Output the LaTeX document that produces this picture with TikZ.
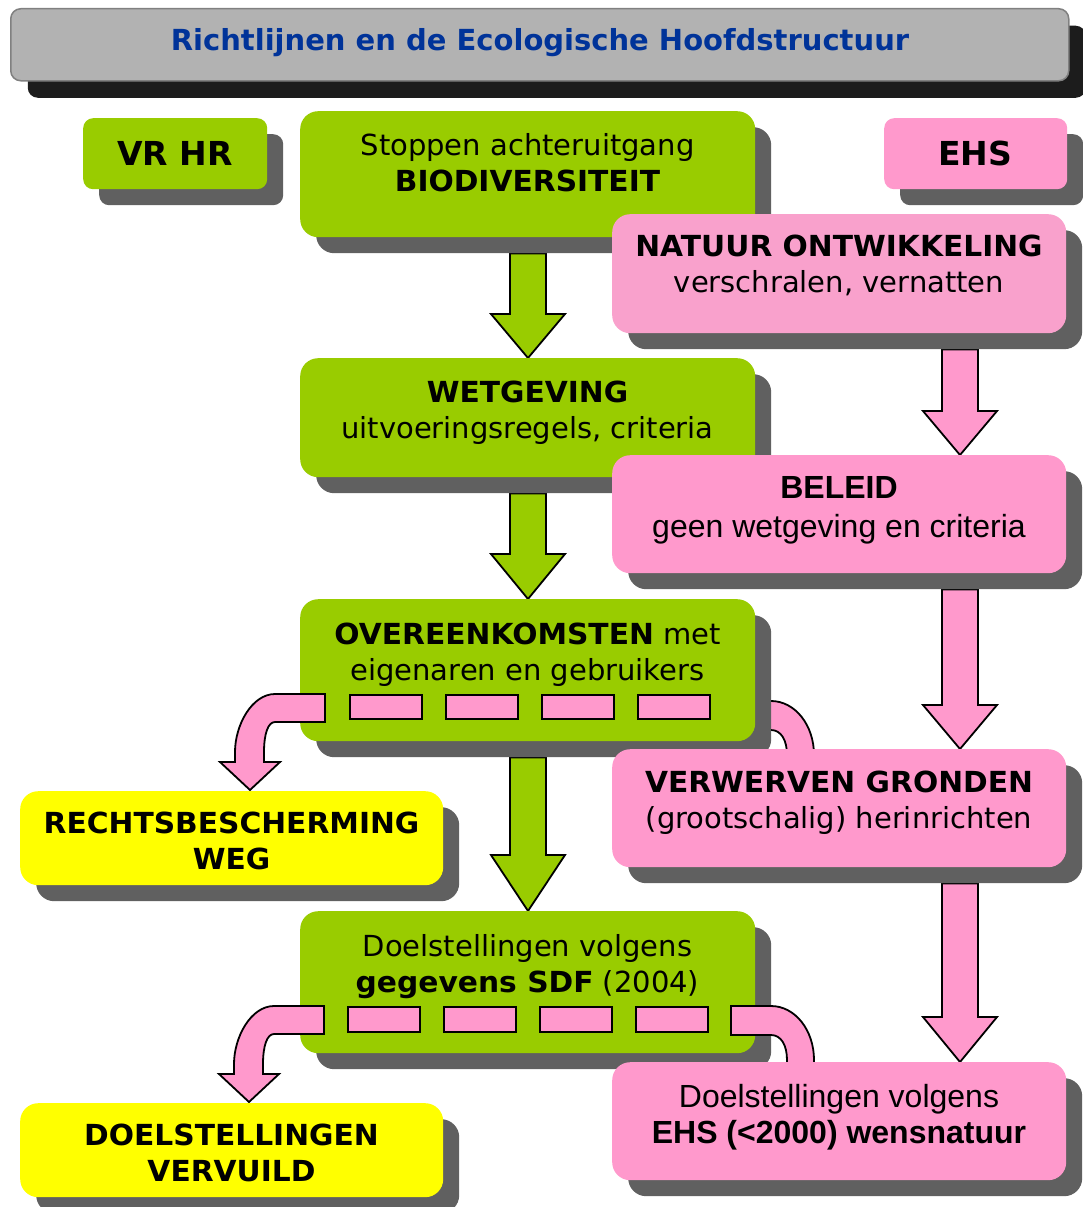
\documentclass[tikz,border=0pt]{standalone}
\usepackage{fontspec}
\setmainfont{DejaVu Sans}[BoldFeatures={FakeStretch=1.025}]
\newfontfamily\plainf{DejaVu Sans}
\newfontfamily\arialf{Liberation Sans}
\usetikzlibrary{calc,shadows,backgrounds}
\definecolor{gr}{HTML}{99CC00}
\definecolor{pk}{HTML}{FF99CC}
\definecolor{pkl}{HTML}{F9A1CC}
\definecolor{yl}{HTML}{FFFF00}
\definecolor{shd}{HTML}{606060}
\definecolor{ttlbg}{HTML}{B2B2B2}
\definecolor{ttlbd}{HTML}{808080}
\definecolor{ttlsh}{HTML}{1C1C1C}
\definecolor{ttltx}{HTML}{003399}
\tikzset{
  basebox/.style={rectangle, rounded corners=18pt, draw=none, inner sep=0pt, anchor=north west},
  box/.style={basebox, drop shadow={shadow xshift=16pt, shadow yshift=-16pt, fill=shd, opacity=1}},
  txt/.style={font=\fontsize{29}{36}\selectfont, align=center, inner sep=0pt},
  atxt/.style={font=\arialf\fontsize{32}{39}\selectfont, align=center, inner sep=0pt},
  blk/.style={draw=black, line width=1.8pt, line join=miter},
  dashbox/.style={rectangle, draw=black, line width=1.6pt, fill=pk, inner sep=0pt, minimum width=72pt, minimum height=24pt, anchor=north west},
}
% block arrow: from shadow bottom of #1 to top of #2, at x=#3, fill #4, head length #5
\newcommand\blkarr[5]{%
  \draw[blk,fill=#4] let \p1=(#1.south), \p2=(#2.north) in
  (#3pt-18pt,\y1-16pt) -- (#3pt+18pt,\y1-16pt) -- (#3pt+18pt,\y2+#5pt) -- (#3pt+37pt,\y2+#5pt)
  -- (#3pt,\y2) -- (#3pt-37pt,\y2+#5pt) -- (#3pt-18pt,\y2+#5pt) -- cycle;}
\newcommand\leftcurv[1]{%
  \draw[blk,fill=pk] (#1) -- ++(-50,0) .. controls +(-23,0) and +(0,-27) .. ++(-40,58)
  -- ++(0,10) -- ++(-15,0) -- ++(30,28) -- ++(30,-28) -- ++(-16,0) -- ++(0,-10)
  .. controls +(0,-18) and +(-7,0) .. ++(11,-30) -- ++(50,0) -- cycle;}
\newcommand\rightcurv[1]{%
  \draw[blk,fill=pk] (#1) -- ++(40,0) .. controls +(24,0) and +(0,-30) .. ++(43,54)
  -- ++(0,36) -- ++(-27,0) -- ++(0,-36)
  .. controls +(0,-15) and +(10,0) .. ++(-16,-25) -- ++(-40,0) -- cycle;}
\begin{document}
\begin{tikzpicture}[x=1pt,y=-1pt]
\useasboundingbox (0,0) rectangle (1083,1207);
% title
\node[basebox, rounded corners=10pt, fill=ttlbg, draw=ttlbd, line width=1.5pt,
  minimum width=1058pt, minimum height=72pt,
  drop shadow={shadow xshift=17pt, shadow yshift=-17pt, fill=ttlsh, opacity=1}] (title) at (10,8) {};
\node[anchor=base, inner sep=0pt, text=ttltx, font=\plainf\bfseries\fontsize{29}{34}\selectfont] (titlet) at (540,51) {Richtlijnen en de Ecologische Hoofdstructuur};
% top row
\node[box, rounded corners=10pt, fill=gr, minimum width=184pt, minimum height=71pt] (vrhr) at (83,118) {};
\node[anchor=base, inner sep=0pt, font=\plainf\bfseries\fontsize{33}{40}\selectfont] (vrhrt) at (175,165) {VR HR};
\node[box, fill=gr, minimum width=455pt, minimum height=126pt] (stop) at (300,111) {};
\node[txt] (stopt) at (527.5,166) {\strut Stoppen achteruitgang\\\strut\textbf{BIODIVERSITEIT}};
\node[box, rounded corners=10pt, fill=pk, minimum width=183pt, minimum height=71pt] (ehs) at (884,118) {};
\node[anchor=base, inner sep=0pt, font=\plainf\bfseries\fontsize{33}{40}\selectfont] (ehst) at (975,165) {EHS};
\node[box, fill=pkl, minimum width=454pt, minimum height=119pt] (natuur) at (612,214) {};
\node[txt] (natuurt) at (839,267) {\strut\textbf{NATUUR ONTWIKKELING}\\\strut verschralen, vernatten};
% second row
\node[box, fill=gr, minimum width=455pt, minimum height=119pt] (wet) at (300,358) {};
\node[txt] (wett) at (527.5,413) {\strut\textbf{WETGEVING}\\\strut uitvoeringsregels, criteria};
\node[box, fill=pk, minimum width=454pt, minimum height=118pt] (beleid) at (612,455) {};
\node[atxt] (beleidt) at (839,510) {\strut\textbf{BELEID}\\\strut geen wetgeving en criteria};
% third row
\node[box, fill=gr, minimum width=455pt, minimum height=142pt] (over) at (300,599) {};
\node[txt] (overt) at (527.5,655) {\strut\textbf{OVEREENKOMSTEN} met\\\strut eigenaren en gebruikers};
\coordinate (overL) at (325,694);
\coordinate (overR) at (731,701);
\leftcurv{overL}
\foreach \i in {0,...,3} \node[dashbox] (od\i) at ({349+96*\i},694) {};
\node[box, fill=yl, minimum width=423pt, minimum height=94pt] (recht) at (20,791) {};
\node[txt] (rechtt) at (231.5,844) {\strut\textbf{RECHTSBESCHERMING}\\\strut\textbf{WEG}};
\node[box, fill=pk, minimum width=454pt, minimum height=118pt] (verw) at (612,749) {};
\node[txt] (verwt) at (839,803) {\strut\textbf{VERWERVEN GRONDEN}\\\strut(grootschalig) herinrichten};
% fourth row
\node[box, fill=gr, minimum width=455pt, minimum height=142pt] (sdf) at (300,911) {};
\node[txt] (sdft) at (527.5,967) {\strut Doelstellingen volgens\\\strut\textbf{gegevens SDF} (2004)};
\coordinate (sdfL) at (324,1006);
\coordinate (sdfR) at (731,1006);
\leftcurv{sdfL}
\rightcurv{sdfR}
\foreach \i in {0,...,3} \node[dashbox, minimum height=25pt] (sd\i) at ({347+96*\i},1006) {};
\node[box, fill=yl, minimum width=423pt, minimum height=94pt] (vervuild) at (20,1103) {};
\node[txt] (vervuildt) at (231.5,1156) {\strut\textbf{DOELSTELLINGEN}\\\strut\textbf{VERVUILD}};
\node[box, fill=pk, minimum width=454pt, minimum height=118pt] (doelehs) at (612,1062) {};
\node[atxt, font=\arialf\fontsize{32}{36}\selectfont] (doelehst) at (839,1118) {\strut Doelstellingen volgens\\\strut\textbf{EHS (<2000) wensnatuur}};
% white page and arrows behind the boxes
\begin{pgfonlayer}{background}
\fill[white] (0,0) rectangle (1083,1207);
\blkarr{stop}{wet}{528}{gr}{44}
\blkarr{wet}{over}{528}{gr}{45}
\blkarr{over}{sdf}{528}{gr}{56}
\blkarr{natuur}{beleid}{960}{pk}{44}
\blkarr{beleid}{verw}{960}{pk}{44}
\blkarr{verw}{doelehs}{960}{pk}{45}
\rightcurv{overR}
\end{pgfonlayer}
\end{tikzpicture}
\end{document}
